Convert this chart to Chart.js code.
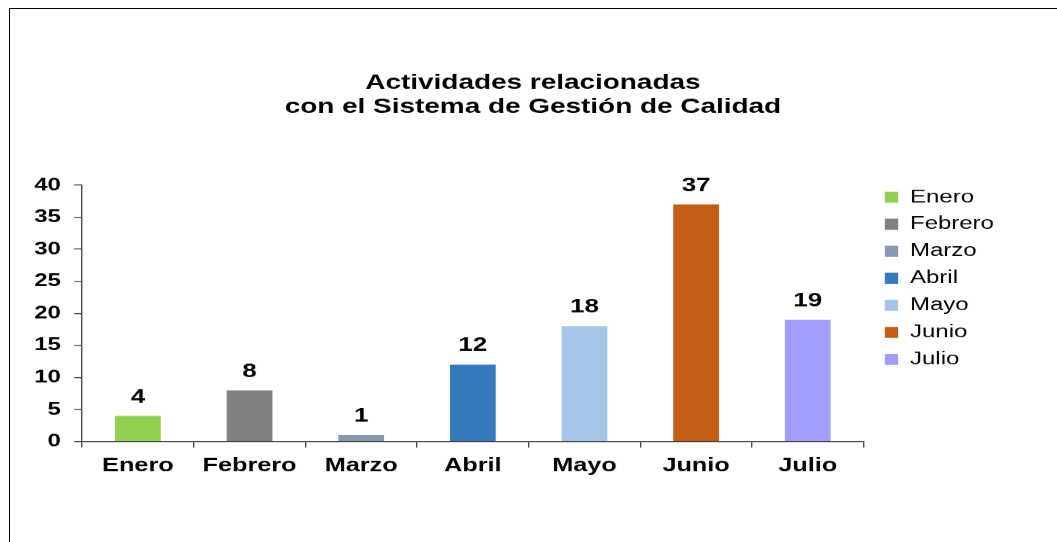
<!DOCTYPE html>
<html>
<head>
<meta charset="utf-8">
<script src="https://cdn.jsdelivr.net/npm/chart.js@4.4.1/dist/chart.umd.min.js"></script>
<style>
  html, body { margin: 0; padding: 0; background: #fff; overflow: hidden; }
  #frame { position: absolute; left: 9px; top: 8px; width: 1200px; height: 700px; border: 1.5px solid #000; }
  /* the reference picture is stretched sideways, so the chart is drawn narrow and widened */
  #wrap { position: absolute; left: 0; top: 0; width: 795px; height: 542px; transform: scaleX(1.3296); transform-origin: 0 0; }
</style>
</head>
<body>
<div id="frame"></div>
<div id="wrap"><canvas id="grafico"></canvas></div>
<script>
const meses = ['Enero', 'Febrero', 'Marzo', 'Abril', 'Mayo', 'Junio', 'Julio'];
const actividades = [4, 8, 1, 12, 18, 37, 19];
const colores = ['#92D050', '#808080', '#8798B1', '#357ABC', '#A3C6E8', '#C55E15', '#9F9FFB'];
const titulo = ['Actividades relacionadas', 'con el Sistema de Gestión de Calidad'];
const yMin = 0, yMax = 40, yPaso = 5;

const fuente = '"Liberation Sans", Arial, sans-serif';

// numbers above the bars
const etiquetas = {
  id: 'etiquetas',
  afterDatasetsDraw(chart) {
    const ctx = chart.ctx;
    const meta = chart.getDatasetMeta(0);
    ctx.save();
    ctx.font = 'bold 19.5px ' + fuente;
    ctx.fillStyle = '#000';
    ctx.textAlign = 'center';
    ctx.textBaseline = 'alphabetic';
    meta.data.forEach((bar, i) => {
      ctx.fillText(String(actividades[i]), bar.x, bar.y - 13.5);
    });
    ctx.restore();
  }
};

// put legend and title where the reference has them
const posicion = {
  id: 'posicion',
  afterLayout(chart) {
    const lg = chart.legend, area = chart.chartArea;
    const w = lg.width, h = lg.height;
    lg.left = area.right + 7; lg.right = lg.left + w;
    lg.top = area.top - 6; lg.bottom = lg.top + h;
    const t = chart.titleBlock;
    t.left = 0; t.right = 801.6; t.width = 801.6;
  }
};

new Chart(document.getElementById('grafico'), {
  type: 'bar',
  data: {
    labels: meses,
    datasets: [{
      label: 'Actividades',
      data: actividades,
      backgroundColor: colores,
      borderWidth: 0,
      categoryPercentage: 1,
      barPercentage: 0.41
    }]
  },
  options: {
    responsive: true,
    maintainAspectRatio: false,
    animation: false,
    devicePixelRatio: 1.3296,
    layout: { padding: { left: 0, right: 44.5, top: 0, bottom: 58 } },
    plugins: {
      title: {
        display: true,
        text: titulo,
        color: '#000',
        font: { family: fuente, size: 21, weight: 'bold', lineHeight: 1.167 },
        padding: { top: 70.5, bottom: 65.5 }
      },
      legend: {
        display: true,
        position: 'right',
        align: 'start',
        labels: {
          color: '#000',
          font: { family: fuente, size: 18 },
          boxWidth: 10,
          boxHeight: 11,
          padding: 9,
          generateLabels(chart) {
            return meses.map((m, i) => ({
              text: m,
              fillStyle: colores[i],
              strokeStyle: colores[i],
              lineWidth: 0,
              hidden: false,
              index: i
            }));
          }
        }
      },
      tooltip: { enabled: false }
    },
    scales: {
      x: {
        grid: { display: true, drawOnChartArea: false, drawTicks: true, tickLength: 6, tickColor: '#404040', offset: true },
        border: { display: true, color: '#404040', width: 1 },
        ticks: { color: '#000', padding: 7, font: { family: fuente, size: 19, weight: 'bold' } }
      },
      y: {
        min: yMin,
        max: yMax,
        afterFit(scale) { scale.width = 61.7; },
        grid: { display: true, drawOnChartArea: false, drawTicks: true, tickLength: 6, tickColor: '#404040' },
        border: { display: true, color: '#404040', width: 1 },
        ticks: { stepSize: yPaso, color: '#000', padding: 10, font: { family: fuente, size: 18, weight: 'bold' } }
      }
    }
  },
  plugins: [etiquetas, posicion]
});
</script>
</body>
</html>
